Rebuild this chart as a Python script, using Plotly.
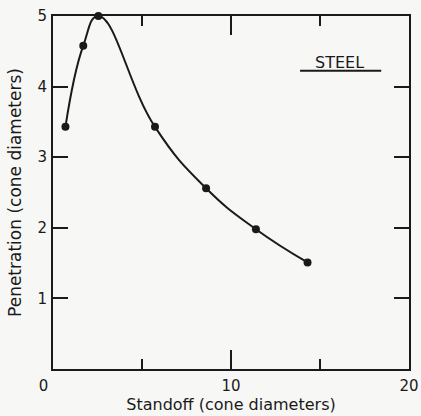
import plotly.graph_objects as go

standoff = [0.7, 1.7, 2.55, 5.73, 8.6, 11.4, 14.3]
penetration = [3.43, 4.58, 5.0, 3.43, 2.56, 1.98, 1.51]
x_tick_vals = [0, 10, 20]
x_tick_text = ["0\u2007\u2007", "10", "20"]
y_tick_vals = [1, 2, 3, 4, 5]
y_tick_text = ["1", "2", "3", "4", "5"]

ink = "#1a1a1a"
font = "DejaVu Sans"

fig = go.Figure()
fig.add_trace(go.Scatter(
    x=standoff, y=penetration, mode="lines+markers",
    line=dict(color=ink, width=2, shape="spline", smoothing=1.3),
    marker=dict(color=ink, size=8),
    showlegend=False, cliponaxis=False,
))

fig.add_annotation(x=0.805, y=0.868, xref="paper", yref="paper", text="STEEL",
                   xanchor="center", yanchor="middle",
                   showarrow=False, font=dict(family=font, size=16, color=ink))
fig.add_shape(type="line", xref="paper", yref="paper", x0=0.694, x1=0.922,
              y0=0.845, y1=0.845, line=dict(color=ink, width=2))

fig.update_layout(
    width=421, height=416,
    margin=dict(l=53, r=12, t=16, b=47),
    paper_bgcolor="#f7f7f5", plot_bgcolor="#f7f7f5",
    font=dict(family=font, size=15, color=ink),
    xaxis=dict(range=[0, 20], tickvals=x_tick_vals, ticktext=x_tick_text,
               ticks="inside", ticklen=19, tickwidth=2, tickcolor=ink,
               minor=dict(tickvals=[5, 15], ticks="inside", ticklen=10, tickwidth=2, tickcolor=ink),
               showline=True, linewidth=2, linecolor=ink, mirror="allticks",
               showgrid=False, zeroline=False, automargin=False,
               ticklabelstandoff=2, tickfont=dict(size=15),
               title=dict(text="Standoff (cone diameters)", font=dict(size=16), standoff=3)),
    yaxis=dict(range=[0, 5], tickvals=y_tick_vals, ticktext=y_tick_text,
               ticks="inside", ticklen=15, tickwidth=2, tickcolor=ink,
               showline=True, linewidth=2, linecolor=ink, mirror="allticks",
               showgrid=False, zeroline=False, automargin=False,
               ticklabelstandoff=1,
               title=dict(text="Penetration (cone diameters)", font=dict(size=17), standoff=12)),
)

fig.write_html("out.html")
